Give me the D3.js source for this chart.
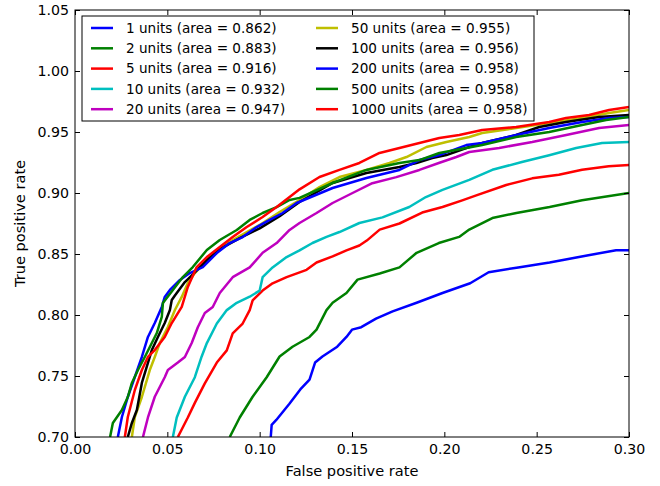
<!DOCTYPE html>
<html>
<head>
<meta charset="utf-8">
<script src="https://cdn.jsdelivr.net/npm/d3@7"></script>
<style>
  body { margin: 0; background: #fff; }
  text { font-family: "DejaVu Sans", sans-serif; fill: #000; }
</style>
</head>
<body>
<svg id="chart" width="660" height="486"></svg>
<script>
// ROC curves, one per network size: [false positive rate, true positive rate]
const units1 = [[0.106,0.700],[0.1065,0.710],[0.109,0.714],[0.116,0.727],[0.122,0.739],[0.127,0.747],[0.130,0.761],[0.134,0.766],[0.142,0.774],[0.147,0.782],[0.150,0.788],[0.155,0.790],[0.163,0.797],[0.172,0.803],[0.185,0.810],[0.199,0.818],[0.214,0.826],[0.224,0.835],[0.240,0.839],[0.257,0.843],[0.278,0.849],[0.293,0.853],[0.300,0.853]];
const units2 = [[0.0838,0.700],[0.0892,0.716],[0.0962,0.733],[0.1038,0.749],[0.1108,0.766],[0.1178,0.774],[0.127,0.782],[0.1308,0.788],[0.1362,0.804],[0.1395,0.810],[0.147,0.818],[0.153,0.829],[0.165,0.834],[0.1757,0.839],[0.185,0.851],[0.197,0.859],[0.208,0.864],[0.2135,0.870],[0.226,0.8795],[0.239,0.8836],[0.257,0.8885],[0.2746,0.894],[0.300,0.900]];
const units5 = [[0.0557,0.700],[0.0611,0.716],[0.0649,0.728],[0.0703,0.744],[0.0768,0.761],[0.0822,0.771],[0.0854,0.785],[0.0908,0.793],[0.0946,0.804],[0.0962,0.812],[0.1016,0.820],[0.107,0.826],[0.1146,0.831],[0.1254,0.837],[0.1308,0.843],[0.1395,0.848],[0.147,0.853],[0.154,0.857],[0.158,0.861],[0.165,0.870],[0.1757,0.875],[0.188,0.884],[0.199,0.8885],[0.2097,0.894],[0.2173,0.898],[0.2335,0.9066],[0.2476,0.912],[0.262,0.915],[0.2746,0.919],[0.289,0.922],[0.300,0.923]];
const units10 = [[0.053,0.700],[0.0551,0.716],[0.0595,0.733],[0.0649,0.749],[0.0686,0.766],[0.0714,0.777],[0.0768,0.793],[0.0822,0.804],[0.0876,0.810],[0.0946,0.815],[0.100,0.820],[0.1016,0.831],[0.107,0.839],[0.1146,0.8475],[0.1216,0.853],[0.1286,0.859],[0.1362,0.864],[0.1432,0.868],[0.154,0.8754],[0.1665,0.880],[0.181,0.8885],[0.190,0.8967],[0.199,0.9025],[0.2135,0.9107],[0.226,0.919],[0.242,0.9254],[0.2568,0.931],[0.2714,0.9369],[0.2854,0.941],[0.300,0.9418]];
const units20 = [[0.0368,0.700],[0.0395,0.716],[0.0432,0.733],[0.0486,0.749],[0.0503,0.755],[0.0557,0.761],[0.0595,0.7656],[0.0632,0.777],[0.0665,0.790],[0.0703,0.8016],[0.0746,0.8066],[0.0784,0.818],[0.0854,0.831],[0.0946,0.839],[0.1016,0.851],[0.1092,0.859],[0.1162,0.8697],[0.1216,0.8754],[0.1308,0.8836],[0.1395,0.8918],[0.1503,0.900],[0.161,0.908],[0.174,0.913],[0.1865,0.9189],[0.197,0.9246],[0.2065,0.9295],[0.2135,0.9336],[0.2297,0.9369],[0.2476,0.9418],[0.266,0.9475],[0.2838,0.9533],[0.300,0.9557]];
const units50 = [[0.0308,0.700],[0.0324,0.7164],[0.0362,0.7328],[0.0405,0.7549],[0.0432,0.7656],[0.0459,0.777],[0.0503,0.7902],[0.0541,0.8041],[0.0578,0.8148],[0.0611,0.8262],[0.0649,0.8344],[0.0714,0.845],[0.0784,0.855],[0.0892,0.8647],[0.100,0.8738],[0.1108,0.8844],[0.1216,0.8943],[0.1324,0.9049],[0.1432,0.9131],[0.1578,0.9189],[0.1703,0.9246],[0.1795,0.9295],[0.1903,0.9377],[0.2011,0.9418],[0.2135,0.9459],[0.2205,0.9492],[0.2389,0.9533],[0.2568,0.9574],[0.2746,0.9615],[0.2892,0.9656],[0.300,0.968]];
const units100 = [[0.0286,0.700],[0.0308,0.7115],[0.0335,0.7221],[0.0362,0.7443],[0.0416,0.7713],[0.0449,0.782],[0.0486,0.7934],[0.0514,0.8041],[0.0524,0.8123],[0.0541,0.816],[0.0595,0.827],[0.0649,0.835],[0.0714,0.845],[0.0784,0.854],[0.0892,0.863],[0.100,0.871],[0.1108,0.881],[0.1216,0.8926],[0.1395,0.9082],[0.1578,0.9164],[0.1757,0.9213],[0.1849,0.9246],[0.1935,0.9287],[0.2011,0.9311],[0.2119,0.9369],[0.2205,0.941],[0.2389,0.9475],[0.2514,0.9541],[0.2659,0.9582],[0.2838,0.9623],[0.300,0.9639]];
const units200 = [[0.0232,0.700],[0.0254,0.7164],[0.0286,0.7328],[0.0324,0.7492],[0.0362,0.7656],[0.0395,0.782],[0.0432,0.7934],[0.047,0.8066],[0.0486,0.8148],[0.0514,0.8205],[0.0568,0.8287],[0.0622,0.8344],[0.0692,0.8393],[0.0768,0.8508],[0.0838,0.859],[0.0908,0.8639],[0.0984,0.8721],[0.1054,0.8779],[0.1124,0.8836],[0.120,0.8918],[0.1395,0.9041],[0.1578,0.9123],[0.1757,0.9189],[0.1865,0.927],[0.1973,0.9311],[0.2119,0.9393],[0.2205,0.941],[0.2389,0.9475],[0.2568,0.9533],[0.2746,0.9582],[0.2892,0.9615],[0.300,0.9623]];
const units500 = [[0.019,0.700],[0.0205,0.7115],[0.0254,0.7221],[0.0286,0.7328],[0.0308,0.7443],[0.0341,0.7549],[0.0378,0.7656],[0.0416,0.777],[0.0443,0.7852],[0.047,0.7984],[0.0476,0.8098],[0.053,0.8205],[0.0584,0.8311],[0.0638,0.8393],[0.0714,0.8533],[0.0784,0.8615],[0.0876,0.8697],[0.0946,0.8779],[0.1016,0.8836],[0.1092,0.8885],[0.1162,0.8943],[0.1216,0.896],[0.1395,0.9082],[0.1578,0.9189],[0.1757,0.9246],[0.1865,0.927],[0.1973,0.9328],[0.2119,0.9369],[0.2205,0.9393],[0.2389,0.9459],[0.2568,0.950],[0.2746,0.9557],[0.2876,0.9598],[0.300,0.9623]];
const units1000 = [[0.027,0.700],[0.0286,0.7164],[0.0324,0.7385],[0.0362,0.7549],[0.0395,0.7656],[0.0432,0.7713],[0.0486,0.782],[0.0524,0.7934],[0.0578,0.8066],[0.0611,0.823],[0.0659,0.8393],[0.0714,0.8475],[0.0784,0.8557],[0.0854,0.8639],[0.093,0.8721],[0.1016,0.8803],[0.1092,0.8885],[0.1162,0.8967],[0.1216,0.903],[0.1324,0.9131],[0.1432,0.9189],[0.154,0.9246],[0.1649,0.9328],[0.1757,0.9369],[0.1865,0.941],[0.1973,0.9451],[0.2081,0.9475],[0.2205,0.9516],[0.2389,0.9541],[0.2568,0.9582],[0.2659,0.9615],[0.2784,0.9639],[0.2892,0.968],[0.300,0.9705]];

const unitCounts = [1, 2, 5, 10, 20, 50, 100, 200, 500, 1000];
const areas = ["0.862", "0.883", "0.916", "0.932", "0.947", "0.955", "0.956", "0.958", "0.958", "0.958"];
const curves = [units1, units2, units5, units10, units20, units50, units100, units200, units500, units1000];
const colors = ["#0000ff", "#008000", "#ff0000", "#00bfbf", "#bf00bf", "#bfbf00", "#000000", "#0000ff", "#008000", "#ff0000"];

const xTicks = [0.00, 0.05, 0.10, 0.15, 0.20, 0.25, 0.30];
const yTicks = [0.70, 0.75, 0.80, 0.85, 0.90, 0.95, 1.00, 1.05];

const svg = d3.select("#chart");
const plotLeft = 75, plotRight = 629, plotTop = 10, plotBottom = 437;

const x = d3.scaleLinear().domain([0, 0.30]).range([plotLeft, plotRight]);
const y = d3.scaleLinear().domain([0.70, 1.05]).range([plotBottom, plotTop]);

svg.append("clipPath").attr("id", "plot-clip")
  .append("rect")
  .attr("x", plotLeft).attr("y", plotTop)
  .attr("width", plotRight - plotLeft).attr("height", plotBottom - plotTop);

// curves
const line = d3.line().x(d => x(d[0])).y(d => y(d[1]));
const curveGroup = svg.append("g").attr("clip-path", "url(#plot-clip)");
curves.forEach((c, i) => {
  curveGroup.append("path")
    .datum(c)
    .attr("d", line)
    .attr("fill", "none")
    .attr("stroke", colors[i])
    .attr("stroke-width", 2.5)
    .attr("stroke-linejoin", "round");
});

// axes: ticks point inward on all four sides
const fmt = d3.format(".2f");
function styleAxis(g) {
  g.select(".domain").remove();
  g.selectAll(".tick line").attr("stroke", "#000").attr("stroke-width", 1);
  g.selectAll(".tick text").style("font-size", "14.2px").attr("fill", "#000");
}
svg.append("g").attr("transform", `translate(0,${plotBottom})`)
  .call(d3.axisBottom(x).tickValues(xTicks).tickFormat(fmt).tickSize(-5).tickPadding(7))
  .call(styleAxis);
svg.append("g").attr("transform", `translate(0,${plotTop})`)
  .call(d3.axisTop(x).tickValues(xTicks).tickFormat("").tickSize(-5))
  .call(styleAxis);
svg.append("g").attr("transform", `translate(${plotLeft},0)`)
  .call(d3.axisLeft(y).tickValues(yTicks).tickFormat(fmt).tickSize(-5).tickPadding(6))
  .call(styleAxis);
svg.append("g").attr("transform", `translate(${plotRight},0)`)
  .call(d3.axisRight(y).tickValues(yTicks).tickFormat("").tickSize(-5))
  .call(styleAxis);

svg.append("rect")
  .attr("x", plotLeft).attr("y", plotTop)
  .attr("width", plotRight - plotLeft).attr("height", plotBottom - plotTop)
  .attr("fill", "none").attr("stroke", "#000").attr("stroke-width", 1);

// axis labels
svg.append("text")
  .attr("x", (plotLeft + plotRight) / 2).attr("y", 476)
  .attr("text-anchor", "middle")
  .style("font-size", "14.6px")
  .text("False positive rate");
svg.append("text")
  .attr("transform", `translate(25,${(plotTop + plotBottom) / 2}) rotate(-90)`)
  .attr("text-anchor", "middle")
  .style("font-size", "14.6px")
  .text("True positive rate");

// legend, two columns of five
const legend = svg.append("g");
legend.append("rect")
  .attr("x", 82).attr("y", 16)
  .attr("width", 452).attr("height", 105)
  .attr("fill", "#fff").attr("stroke", "#000").attr("stroke-width", 1);
unitCounts.forEach((u, i) => {
  const col = Math.floor(i / 5), row = i % 5;
  const lx = col === 0 ? 91 : 316;
  const ly = 28 + row * 20.3;
  legend.append("line")
    .attr("x1", lx).attr("x2", lx + 22)
    .attr("y1", ly).attr("y2", ly)
    .attr("stroke", colors[i]).attr("stroke-width", 2.5);
  legend.append("text")
    .attr("x", lx + 35).attr("y", ly)
    .attr("dy", "0.36em")
    .style("font-size", "13.6px")
    .text(`${u} units (area = ${areas[i]})`);
});
</script>
</body>
</html>
